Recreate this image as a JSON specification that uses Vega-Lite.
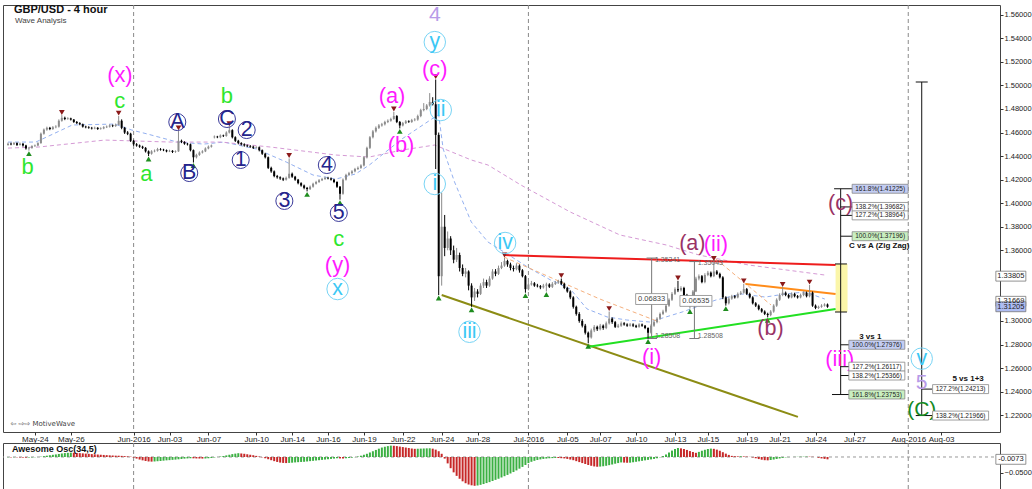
{
"$schema":"https://vega.github.io/schema/vega-lite/v6.json",
"padding":{"left":2,"top":3,"right":0,"bottom":0},
"background":"white",
"spacing":11,
"bounds":"flush",
"config":{"font":"Liberation Sans","view":{"stroke":"#444","strokeWidth":1},"axis":{"labelFont":"Liberation Sans","labelFontSize":8,"labelColor":"#222","tickColor":"#333","domainColor":"#333","title":null,"grid":false,"labelOverlap":false}},
"datasets":{
"months":[{"i":42},{"i":174},{"i":301}],
"bars":[
{"i":0,"o":1.4495,"h":1.4515,"l":1.4488,"c":1.4505,"a":-0.001},
{"i":1,"o":1.4505,"h":1.4514,"l":1.4492,"c":1.45,"a":-0.0012},
{"i":2,"o":1.45,"h":1.452,"l":1.4494,"c":1.451,"a":-0.0008},
{"i":3,"o":1.451,"h":1.4516,"l":1.4486,"c":1.4495,"a":-0.001},
{"i":4,"o":1.4495,"h":1.4515,"l":1.449,"c":1.4505,"a":-0.0014},
{"i":5,"o":1.4505,"h":1.451,"l":1.448,"c":1.449,"a":-0.0018},
{"i":6,"o":1.449,"h":1.4496,"l":1.4455,"c":1.4465,"a":-0.002},
{"i":7,"o":1.4465,"h":1.4478,"l":1.4446,"c":1.447,"a":-0.0016},
{"i":8,"o":1.447,"h":1.4492,"l":1.4462,"c":1.4485,"a":-0.0012},
{"i":9,"o":1.4485,"h":1.4498,"l":1.4478,"c":1.449,"a":-0.0008},
{"i":10,"o":1.449,"h":1.4518,"l":1.4484,"c":1.451,"a":-0.0002},
{"i":11,"o":1.451,"h":1.46,"l":1.4505,"c":1.459,"a":0.001},
{"i":12,"o":1.459,"h":1.4634,"l":1.4582,"c":1.4625,"a":0.0025},
{"i":13,"o":1.4625,"h":1.465,"l":1.4615,"c":1.464,"a":0.004},
{"i":14,"o":1.464,"h":1.4648,"l":1.462,"c":1.463,"a":0.0055},
{"i":15,"o":1.463,"h":1.4655,"l":1.4622,"c":1.4645,"a":0.0068},
{"i":16,"o":1.4645,"h":1.4662,"l":1.4636,"c":1.465,"a":0.008},
{"i":17,"o":1.465,"h":1.4712,"l":1.4642,"c":1.47,"a":0.0095},
{"i":18,"o":1.47,"h":1.4748,"l":1.4692,"c":1.4725,"a":0.011},
{"i":19,"o":1.4725,"h":1.4735,"l":1.4705,"c":1.4715,"a":0.0122},
{"i":20,"o":1.4715,"h":1.473,"l":1.4708,"c":1.472,"a":0.013},
{"i":21,"o":1.472,"h":1.4726,"l":1.4702,"c":1.471,"a":0.0135},
{"i":22,"o":1.471,"h":1.4715,"l":1.4682,"c":1.469,"a":0.0132},
{"i":23,"o":1.469,"h":1.4698,"l":1.4672,"c":1.468,"a":0.0126},
{"i":24,"o":1.468,"h":1.4688,"l":1.4662,"c":1.467,"a":0.012},
{"i":25,"o":1.467,"h":1.4676,"l":1.4642,"c":1.465,"a":0.0113},
{"i":26,"o":1.465,"h":1.4658,"l":1.4636,"c":1.4645,"a":0.0105},
{"i":27,"o":1.4645,"h":1.4654,"l":1.4632,"c":1.464,"a":0.0098},
{"i":28,"o":1.464,"h":1.4648,"l":1.4626,"c":1.4635,"a":0.009},
{"i":29,"o":1.4635,"h":1.465,"l":1.4628,"c":1.464,"a":0.0084},
{"i":30,"o":1.464,"h":1.4646,"l":1.4622,"c":1.463,"a":0.0077},
{"i":31,"o":1.463,"h":1.4644,"l":1.4624,"c":1.4635,"a":0.007},
{"i":32,"o":1.4635,"h":1.4654,"l":1.4628,"c":1.4645,"a":0.0064},
{"i":33,"o":1.4645,"h":1.466,"l":1.4638,"c":1.465,"a":0.0058},
{"i":34,"o":1.465,"h":1.467,"l":1.4642,"c":1.466,"a":0.0052},
{"i":35,"o":1.466,"h":1.4668,"l":1.4646,"c":1.4655,"a":0.0047},
{"i":36,"o":1.4655,"h":1.4676,"l":1.4648,"c":1.4665,"a":0.0042},
{"i":37,"o":1.4665,"h":1.474,"l":1.466,"c":1.47,"a":0.004},
{"i":38,"o":1.47,"h":1.4712,"l":1.4628,"c":1.464,"a":0.0035},
{"i":39,"o":1.464,"h":1.4648,"l":1.4588,"c":1.46,"a":0.0028},
{"i":40,"o":1.46,"h":1.4612,"l":1.4578,"c":1.459,"a":0.002},
{"i":41,"o":1.459,"h":1.4598,"l":1.452,"c":1.453,"a":0.001},
{"i":42,"o":1.453,"h":1.4538,"l":1.4488,"c":1.45,"a":-0.002},
{"i":43,"o":1.45,"h":1.451,"l":1.448,"c":1.449,"a":-0.005},
{"i":44,"o":1.449,"h":1.4498,"l":1.447,"c":1.448,"a":-0.008},
{"i":45,"o":1.448,"h":1.4488,"l":1.446,"c":1.447,"a":-0.0105},
{"i":46,"o":1.447,"h":1.4476,"l":1.443,"c":1.444,"a":-0.0125},
{"i":47,"o":1.444,"h":1.4448,"l":1.44,"c":1.442,"a":-0.014},
{"i":48,"o":1.442,"h":1.445,"l":1.4412,"c":1.444,"a":-0.0145},
{"i":49,"o":1.444,"h":1.4456,"l":1.4432,"c":1.4445,"a":-0.014},
{"i":50,"o":1.4445,"h":1.447,"l":1.4438,"c":1.446,"a":-0.0132},
{"i":51,"o":1.446,"h":1.4468,"l":1.4446,"c":1.4455,"a":-0.0125},
{"i":52,"o":1.4455,"h":1.4462,"l":1.4442,"c":1.445,"a":-0.0115},
{"i":53,"o":1.445,"h":1.4456,"l":1.4432,"c":1.444,"a":-0.0105},
{"i":54,"o":1.444,"h":1.4454,"l":1.4434,"c":1.4445,"a":-0.0098},
{"i":55,"o":1.4445,"h":1.445,"l":1.4426,"c":1.4435,"a":-0.009},
{"i":56,"o":1.4435,"h":1.4448,"l":1.4428,"c":1.444,"a":-0.0082},
{"i":57,"o":1.444,"h":1.4615,"l":1.4436,"c":1.453,"a":-0.0072},
{"i":58,"o":1.453,"h":1.454,"l":1.451,"c":1.452,"a":-0.0062},
{"i":59,"o":1.452,"h":1.4526,"l":1.4496,"c":1.4505,"a":-0.0052},
{"i":60,"o":1.4505,"h":1.4512,"l":1.449,"c":1.45,"a":-0.0045},
{"i":61,"o":1.45,"h":1.4506,"l":1.444,"c":1.445,"a":-0.004},
{"i":62,"o":1.445,"h":1.4456,"l":1.4345,"c":1.439,"a":-0.0042},
{"i":63,"o":1.439,"h":1.442,"l":1.438,"c":1.441,"a":-0.0046},
{"i":64,"o":1.441,"h":1.444,"l":1.4402,"c":1.443,"a":-0.0048},
{"i":65,"o":1.443,"h":1.445,"l":1.4422,"c":1.444,"a":-0.005},
{"i":66,"o":1.444,"h":1.4474,"l":1.4434,"c":1.4465,"a":-0.0047},
{"i":67,"o":1.4465,"h":1.449,"l":1.4458,"c":1.448,"a":-0.004},
{"i":68,"o":1.448,"h":1.4498,"l":1.4472,"c":1.449,"a":-0.003},
{"i":69,"o":1.456,"h":1.4575,"l":1.455,"c":1.4565,"a":-0.0015},
{"i":70,"o":1.4565,"h":1.4572,"l":1.4552,"c":1.456,"a":0},
{"i":71,"o":1.456,"h":1.4584,"l":1.4552,"c":1.4575,"a":0.0015},
{"i":72,"o":1.4575,"h":1.4582,"l":1.4562,"c":1.457,"a":0.003},
{"i":73,"o":1.457,"h":1.461,"l":1.4565,"c":1.46,"a":0.005},
{"i":74,"o":1.46,"h":1.465,"l":1.4592,"c":1.462,"a":0.007},
{"i":75,"o":1.462,"h":1.4628,"l":1.455,"c":1.456,"a":0.009},
{"i":76,"o":1.456,"h":1.4568,"l":1.452,"c":1.453,"a":0.0105},
{"i":77,"o":1.453,"h":1.4538,"l":1.45,"c":1.451,"a":0.0118},
{"i":78,"o":1.451,"h":1.4518,"l":1.449,"c":1.45,"a":0.011},
{"i":79,"o":1.45,"h":1.4508,"l":1.448,"c":1.449,"a":0.01},
{"i":80,"o":1.449,"h":1.4498,"l":1.4476,"c":1.4485,"a":0.0085},
{"i":81,"o":1.4485,"h":1.4494,"l":1.447,"c":1.448,"a":0.007},
{"i":82,"o":1.448,"h":1.4488,"l":1.446,"c":1.447,"a":0.0055},
{"i":83,"o":1.447,"h":1.4484,"l":1.4464,"c":1.4475,"a":0.0035},
{"i":84,"o":1.4475,"h":1.4482,"l":1.444,"c":1.445,"a":0.0015},
{"i":85,"o":1.445,"h":1.4456,"l":1.441,"c":1.442,"a":-0.001},
{"i":86,"o":1.442,"h":1.4428,"l":1.438,"c":1.439,"a":-0.004},
{"i":87,"o":1.439,"h":1.4396,"l":1.429,"c":1.43,"a":-0.007},
{"i":88,"o":1.43,"h":1.431,"l":1.4258,"c":1.427,"a":-0.01},
{"i":89,"o":1.427,"h":1.4278,"l":1.422,"c":1.423,"a":-0.013},
{"i":90,"o":1.423,"h":1.424,"l":1.4208,"c":1.422,"a":-0.0155},
{"i":91,"o":1.422,"h":1.4228,"l":1.4198,"c":1.421,"a":-0.0175},
{"i":92,"o":1.421,"h":1.4218,"l":1.4188,"c":1.42,"a":-0.0185},
{"i":93,"o":1.42,"h":1.4226,"l":1.4192,"c":1.4215,"a":-0.019},
{"i":94,"o":1.4215,"h":1.438,"l":1.4208,"c":1.425,"a":-0.0185},
{"i":95,"o":1.425,"h":1.426,"l":1.4215,"c":1.4225,"a":-0.0178},
{"i":96,"o":1.4225,"h":1.4232,"l":1.419,"c":1.42,"a":-0.017},
{"i":97,"o":1.42,"h":1.4206,"l":1.416,"c":1.417,"a":-0.0162},
{"i":98,"o":1.417,"h":1.4178,"l":1.414,"c":1.415,"a":-0.0155},
{"i":99,"o":1.415,"h":1.4158,"l":1.4118,"c":1.413,"a":-0.015},
{"i":100,"o":1.413,"h":1.4138,"l":1.41,"c":1.412,"a":-0.014},
{"i":101,"o":1.412,"h":1.415,"l":1.4112,"c":1.414,"a":-0.013},
{"i":102,"o":1.414,"h":1.4174,"l":1.4132,"c":1.4165,"a":-0.012},
{"i":103,"o":1.4165,"h":1.419,"l":1.4158,"c":1.418,"a":-0.011},
{"i":104,"o":1.418,"h":1.4205,"l":1.4172,"c":1.4195,"a":-0.01},
{"i":105,"o":1.4195,"h":1.4215,"l":1.4188,"c":1.4205,"a":-0.009},
{"i":106,"o":1.4205,"h":1.4226,"l":1.4198,"c":1.4215,"a":-0.008},
{"i":107,"o":1.4215,"h":1.4224,"l":1.4202,"c":1.421,"a":-0.007},
{"i":108,"o":1.421,"h":1.4218,"l":1.4192,"c":1.42,"a":-0.006},
{"i":109,"o":1.42,"h":1.4206,"l":1.417,"c":1.418,"a":-0.005},
{"i":110,"o":1.418,"h":1.4186,"l":1.413,"c":1.414,"a":-0.0042},
{"i":111,"o":1.414,"h":1.4146,"l":1.403,"c":1.408,"a":-0.0045},
{"i":112,"o":1.408,"h":1.421,"l":1.4072,"c":1.42,"a":-0.0048},
{"i":113,"o":1.42,"h":1.425,"l":1.4192,"c":1.424,"a":-0.004},
{"i":114,"o":1.424,"h":1.4266,"l":1.4232,"c":1.4255,"a":-0.003},
{"i":115,"o":1.4255,"h":1.428,"l":1.4246,"c":1.427,"a":-0.002},
{"i":116,"o":1.427,"h":1.43,"l":1.4262,"c":1.429,"a":-0.0005},
{"i":117,"o":1.429,"h":1.4312,"l":1.4282,"c":1.43,"a":0.0015},
{"i":118,"o":1.43,"h":1.433,"l":1.4292,"c":1.432,"a":0.004},
{"i":119,"o":1.432,"h":1.44,"l":1.4312,"c":1.439,"a":0.007},
{"i":120,"o":1.439,"h":1.448,"l":1.438,"c":1.447,"a":0.01},
{"i":121,"o":1.447,"h":1.457,"l":1.446,"c":1.456,"a":0.014},
{"i":122,"o":1.456,"h":1.4622,"l":1.455,"c":1.461,"a":0.018},
{"i":123,"o":1.461,"h":1.4652,"l":1.46,"c":1.464,"a":0.022},
{"i":124,"o":1.464,"h":1.4672,"l":1.463,"c":1.466,"a":0.026},
{"i":125,"o":1.466,"h":1.4682,"l":1.465,"c":1.467,"a":0.0295},
{"i":126,"o":1.467,"h":1.47,"l":1.466,"c":1.469,"a":0.032},
{"i":127,"o":1.469,"h":1.4712,"l":1.468,"c":1.47,"a":0.034},
{"i":128,"o":1.47,"h":1.4726,"l":1.4692,"c":1.4715,"a":0.0355},
{"i":129,"o":1.4715,"h":1.4775,"l":1.4708,"c":1.474,"a":0.035},
{"i":130,"o":1.474,"h":1.4748,"l":1.468,"c":1.469,"a":0.034},
{"i":131,"o":1.469,"h":1.4698,"l":1.4635,"c":1.466,"a":0.0325},
{"i":132,"o":1.466,"h":1.469,"l":1.4652,"c":1.468,"a":0.031},
{"i":133,"o":1.468,"h":1.4706,"l":1.4672,"c":1.4695,"a":0.0295},
{"i":134,"o":1.4695,"h":1.4704,"l":1.4682,"c":1.469,"a":0.028},
{"i":135,"o":1.469,"h":1.4716,"l":1.4682,"c":1.4705,"a":0.0265},
{"i":136,"o":1.4705,"h":1.4722,"l":1.4696,"c":1.471,"a":0.0255},
{"i":137,"o":1.471,"h":1.4752,"l":1.47,"c":1.474,"a":0.0258},
{"i":138,"o":1.474,"h":1.4802,"l":1.473,"c":1.479,"a":0.0262},
{"i":139,"o":1.479,"h":1.485,"l":1.478,"c":1.48,"a":0.0266},
{"i":140,"o":1.48,"h":1.4842,"l":1.479,"c":1.483,"a":0.027},
{"i":141,"o":1.483,"h":1.4935,"l":1.482,"c":1.486,"a":0.0272},
{"i":142,"o":1.486,"h":1.49,"l":1.483,"c":1.484,"a":0.026},
{"i":143,"o":1.484,"h":1.505,"l":1.429,"c":1.458,"a":0.023},
{"i":144,"o":1.458,"h":1.46,"l":1.322,"c":1.338,"a":0.018},
{"i":145,"o":1.338,"h":1.409,"l":1.33,"c":1.38,"a":0.01},
{"i":146,"o":1.38,"h":1.39,"l":1.355,"c":1.362,"a":-0.005},
{"i":147,"o":1.362,"h":1.376,"l":1.36,"c":1.37,"a":-0.02},
{"i":148,"o":1.37,"h":1.372,"l":1.356,"c":1.36,"a":-0.035},
{"i":149,"o":1.36,"h":1.364,"l":1.349,"c":1.352,"a":-0.048},
{"i":150,"o":1.352,"h":1.362,"l":1.35,"c":1.356,"a":-0.059},
{"i":151,"o":1.356,"h":1.358,"l":1.342,"c":1.345,"a":-0.068},
{"i":152,"o":1.345,"h":1.348,"l":1.338,"c":1.34,"a":-0.076},
{"i":153,"o":1.34,"h":1.345,"l":1.337,"c":1.342,"a":-0.082},
{"i":154,"o":1.342,"h":1.343,"l":1.326,"c":1.33,"a":-0.086},
{"i":155,"o":1.33,"h":1.332,"l":1.312,"c":1.32,"a":-0.0885},
{"i":156,"o":1.32,"h":1.328,"l":1.317,"c":1.325,"a":-0.09},
{"i":157,"o":1.325,"h":1.327,"l":1.32,"c":1.323,"a":-0.089},
{"i":158,"o":1.323,"h":1.332,"l":1.322,"c":1.33,"a":-0.087},
{"i":159,"o":1.33,"h":1.336,"l":1.328,"c":1.333,"a":-0.0845},
{"i":160,"o":1.333,"h":1.335,"l":1.328,"c":1.33,"a":-0.0815},
{"i":161,"o":1.33,"h":1.338,"l":1.329,"c":1.336,"a":-0.0785},
{"i":162,"o":1.336,"h":1.344,"l":1.335,"c":1.342,"a":-0.075},
{"i":163,"o":1.342,"h":1.344,"l":1.338,"c":1.34,"a":-0.0715},
{"i":164,"o":1.34,"h":1.347,"l":1.339,"c":1.345,"a":-0.068},
{"i":165,"o":1.345,"h":1.35,"l":1.344,"c":1.347,"a":-0.064},
{"i":166,"o":1.347,"h":1.3535,"l":1.346,"c":1.351,"a":-0.06},
{"i":167,"o":1.351,"h":1.352,"l":1.346,"c":1.348,"a":-0.056},
{"i":168,"o":1.348,"h":1.3495,"l":1.343,"c":1.345,"a":-0.0515},
{"i":169,"o":1.345,"h":1.347,"l":1.342,"c":1.344,"a":-0.047},
{"i":170,"o":1.344,"h":1.349,"l":1.343,"c":1.347,"a":-0.042},
{"i":171,"o":1.347,"h":1.348,"l":1.341,"c":1.343,"a":-0.0365},
{"i":172,"o":1.343,"h":1.344,"l":1.337,"c":1.338,"a":-0.031},
{"i":173,"o":1.338,"h":1.339,"l":1.324,"c":1.327,"a":-0.025},
{"i":174,"o":1.327,"h":1.333,"l":1.326,"c":1.331,"a":-0.019},
{"i":175,"o":1.331,"h":1.334,"l":1.33,"c":1.332,"a":-0.015},
{"i":176,"o":1.332,"h":1.333,"l":1.329,"c":1.33,"a":-0.012},
{"i":177,"o":1.33,"h":1.3315,"l":1.3285,"c":1.3295,"a":-0.0095},
{"i":178,"o":1.3295,"h":1.3305,"l":1.327,"c":1.3285,"a":-0.0075},
{"i":179,"o":1.3285,"h":1.3315,"l":1.3275,"c":1.33,"a":-0.006},
{"i":180,"o":1.33,"h":1.3325,"l":1.325,"c":1.331,"a":-0.005},
{"i":181,"o":1.331,"h":1.332,"l":1.328,"c":1.329,"a":-0.004},
{"i":182,"o":1.329,"h":1.333,"l":1.328,"c":1.3315,"a":-0.0035},
{"i":183,"o":1.3315,"h":1.334,"l":1.3305,"c":1.3325,"a":-0.003},
{"i":184,"o":1.3325,"h":1.335,"l":1.3315,"c":1.334,"a":-0.0032},
{"i":185,"o":1.334,"h":1.336,"l":1.3305,"c":1.3315,"a":-0.0038},
{"i":186,"o":1.3315,"h":1.3325,"l":1.327,"c":1.328,"a":-0.0045},
{"i":187,"o":1.328,"h":1.329,"l":1.324,"c":1.325,"a":-0.006},
{"i":188,"o":1.325,"h":1.326,"l":1.3185,"c":1.32,"a":-0.008},
{"i":189,"o":1.32,"h":1.321,"l":1.3105,"c":1.312,"a":-0.01},
{"i":190,"o":1.312,"h":1.313,"l":1.3045,"c":1.306,"a":-0.013},
{"i":191,"o":1.306,"h":1.3075,"l":1.2985,"c":1.3,"a":-0.016},
{"i":192,"o":1.3,"h":1.3015,"l":1.2945,"c":1.296,"a":-0.019},
{"i":193,"o":1.296,"h":1.2975,"l":1.2885,"c":1.29,"a":-0.022},
{"i":194,"o":1.29,"h":1.291,"l":1.281,"c":1.286,"a":-0.025},
{"i":195,"o":1.286,"h":1.2935,"l":1.285,"c":1.292,"a":-0.0275},
{"i":196,"o":1.292,"h":1.2965,"l":1.2905,"c":1.295,"a":-0.0295},
{"i":197,"o":1.295,"h":1.296,"l":1.2915,"c":1.293,"a":-0.0305},
{"i":198,"o":1.293,"h":1.2975,"l":1.292,"c":1.296,"a":-0.03},
{"i":199,"o":1.296,"h":1.297,"l":1.2925,"c":1.294,"a":-0.029},
{"i":200,"o":1.294,"h":1.2995,"l":1.293,"c":1.298,"a":-0.0275},
{"i":201,"o":1.298,"h":1.308,"l":1.297,"c":1.302,"a":-0.0255},
{"i":202,"o":1.302,"h":1.303,"l":1.2975,"c":1.299,"a":-0.0235},
{"i":203,"o":1.299,"h":1.3,"l":1.294,"c":1.295,"a":-0.021},
{"i":204,"o":1.295,"h":1.2975,"l":1.294,"c":1.296,"a":-0.019},
{"i":205,"o":1.296,"h":1.2995,"l":1.295,"c":1.298,"a":-0.017},
{"i":206,"o":1.298,"h":1.299,"l":1.296,"c":1.297,"a":-0.0175},
{"i":207,"o":1.297,"h":1.298,"l":1.295,"c":1.296,"a":-0.018},
{"i":208,"o":1.296,"h":1.2982,"l":1.2952,"c":1.297,"a":-0.0178},
{"i":209,"o":1.297,"h":1.298,"l":1.2948,"c":1.296,"a":-0.0165},
{"i":210,"o":1.296,"h":1.2968,"l":1.294,"c":1.295,"a":-0.015},
{"i":211,"o":1.295,"h":1.298,"l":1.2942,"c":1.297,"a":-0.0135},
{"i":212,"o":1.297,"h":1.2978,"l":1.295,"c":1.296,"a":-0.012},
{"i":213,"o":1.296,"h":1.2966,"l":1.293,"c":1.294,"a":-0.0105},
{"i":214,"o":1.294,"h":1.2946,"l":1.2851,"c":1.29,"a":-0.009},
{"i":215,"o":1.29,"h":1.2972,"l":1.2892,"c":1.296,"a":-0.0075},
{"i":216,"o":1.296,"h":1.3002,"l":1.295,"c":1.299,"a":-0.006},
{"i":217,"o":1.299,"h":1.3032,"l":1.298,"c":1.302,"a":-0.004},
{"i":218,"o":1.302,"h":1.3072,"l":1.301,"c":1.306,"a":-0.001},
{"i":219,"o":1.306,"h":1.3095,"l":1.305,"c":1.308,"a":0.003},
{"i":220,"o":1.308,"h":1.3142,"l":1.307,"c":1.313,"a":0.008},
{"i":221,"o":1.313,"h":1.3192,"l":1.312,"c":1.318,"a":0.014},
{"i":222,"o":1.318,"h":1.3245,"l":1.317,"c":1.323,"a":0.02},
{"i":223,"o":1.323,"h":1.3285,"l":1.322,"c":1.327,"a":0.025},
{"i":224,"o":1.327,"h":1.334,"l":1.3245,"c":1.326,"a":0.028},
{"i":225,"o":1.326,"h":1.3295,"l":1.325,"c":1.328,"a":0.027},
{"i":226,"o":1.328,"h":1.329,"l":1.321,"c":1.322,"a":0.025},
{"i":227,"o":1.322,"h":1.323,"l":1.315,"c":1.316,"a":0.022},
{"i":228,"o":1.316,"h":1.32,"l":1.3105,"c":1.319,"a":0.0185},
{"i":229,"o":1.319,"h":1.3262,"l":1.318,"c":1.325,"a":0.0155},
{"i":230,"o":1.325,"h":1.3375,"l":1.3245,"c":1.336,"a":0.013},
{"i":231,"o":1.336,"h":1.3395,"l":1.3345,"c":1.338,"a":0.016},
{"i":232,"o":1.338,"h":1.339,"l":1.332,"c":1.333,"a":0.0195},
{"i":233,"o":1.333,"h":1.3405,"l":1.332,"c":1.339,"a":0.0225},
{"i":234,"o":1.339,"h":1.3425,"l":1.338,"c":1.341,"a":0.025},
{"i":235,"o":1.341,"h":1.342,"l":1.337,"c":1.338,"a":0.0262},
{"i":236,"o":1.338,"h":1.3504,"l":1.3372,"c":1.342,"a":0.0255},
{"i":237,"o":1.342,"h":1.3432,"l":1.339,"c":1.34,"a":0.023},
{"i":238,"o":1.34,"h":1.341,"l":1.336,"c":1.337,"a":0.0195},
{"i":239,"o":1.337,"h":1.338,"l":1.3185,"c":1.32,"a":0.015},
{"i":240,"o":1.32,"h":1.321,"l":1.313,"c":1.315,"a":0.0105},
{"i":241,"o":1.315,"h":1.3205,"l":1.314,"c":1.319,"a":0.0065},
{"i":242,"o":1.319,"h":1.3222,"l":1.318,"c":1.321,"a":0.0035},
{"i":243,"o":1.321,"h":1.322,"l":1.319,"c":1.32,"a":0.0025},
{"i":244,"o":1.32,"h":1.3242,"l":1.3192,"c":1.323,"a":0.002},
{"i":245,"o":1.323,"h":1.3255,"l":1.322,"c":1.324,"a":0.0022},
{"i":246,"o":1.324,"h":1.3315,"l":1.3232,"c":1.327,"a":0.0018},
{"i":247,"o":1.327,"h":1.328,"l":1.322,"c":1.323,"a":0.0012},
{"i":248,"o":1.323,"h":1.324,"l":1.319,"c":1.32,"a":0.0005},
{"i":249,"o":1.32,"h":1.321,"l":1.314,"c":1.315,"a":-0.0015},
{"i":250,"o":1.315,"h":1.316,"l":1.3118,"c":1.313,"a":-0.004},
{"i":251,"o":1.313,"h":1.314,"l":1.309,"c":1.31,"a":-0.0065},
{"i":252,"o":1.31,"h":1.311,"l":1.307,"c":1.308,"a":-0.0085},
{"i":253,"o":1.308,"h":1.309,"l":1.305,"c":1.306,"a":-0.01},
{"i":254,"o":1.306,"h":1.307,"l":1.303,"c":1.305,"a":-0.0105},
{"i":255,"o":1.305,"h":1.3092,"l":1.304,"c":1.308,"a":-0.0095},
{"i":256,"o":1.308,"h":1.3142,"l":1.307,"c":1.313,"a":-0.008},
{"i":257,"o":1.313,"h":1.3192,"l":1.312,"c":1.318,"a":-0.0062},
{"i":258,"o":1.318,"h":1.3235,"l":1.317,"c":1.322,"a":-0.0045},
{"i":259,"o":1.322,"h":1.3285,"l":1.321,"c":1.324,"a":-0.0028},
{"i":260,"o":1.324,"h":1.325,"l":1.321,"c":1.322,"a":-0.0012},
{"i":261,"o":1.322,"h":1.323,"l":1.319,"c":1.32,"a":-0.0005},
{"i":262,"o":1.32,"h":1.3242,"l":1.3192,"c":1.323,"a":0},
{"i":263,"o":1.323,"h":1.324,"l":1.32,"c":1.321,"a":0.0004},
{"i":264,"o":1.321,"h":1.322,"l":1.319,"c":1.32,"a":0.0006},
{"i":265,"o":1.32,"h":1.3232,"l":1.3192,"c":1.322,"a":0.0008},
{"i":266,"o":1.322,"h":1.3252,"l":1.321,"c":1.324,"a":0.001},
{"i":267,"o":1.324,"h":1.325,"l":1.32,"c":1.321,"a":0.0012},
{"i":268,"o":1.321,"h":1.3305,"l":1.32,"c":1.324,"a":0.001},
{"i":269,"o":1.324,"h":1.325,"l":1.312,"c":1.313,"a":0.0006},
{"i":270,"o":1.313,"h":1.314,"l":1.31,"c":1.311,"a":0},
{"i":271,"o":1.311,"h":1.313,"l":1.3102,"c":1.312,"a":-0.0025},
{"i":272,"o":1.312,"h":1.3142,"l":1.3112,"c":1.313,"a":-0.0045},
{"i":273,"o":1.313,"h":1.315,"l":1.3122,"c":1.314,"a":-0.006},
{"i":274,"o":1.314,"h":1.3148,"l":1.3112,"c":1.312,"a":-0.0073}
],
"ma":[
{"s":"b","i":0,"p":1.4519},{"s":"b","i":9.3,"p":1.4519},{"s":"b","i":21.5,"p":1.4664},{"s":"b","i":35.7,"p":1.4672},{"s":"b","i":41.4,"p":1.4621},{"s":"b","i":46.7,"p":1.4587},{"s":"b","i":56.6,"p":1.4519},{"s":"b","i":65.5,"p":1.4502},{"s":"b","i":72.2,"p":1.4519},{"s":"b","i":83.1,"p":1.446},{"s":"b","i":93,"p":1.435},{"s":"b","i":102,"p":1.4239},{"s":"b","i":109.6,"p":1.4205},{"s":"b","i":116.2,"p":1.4248},{"s":"b","i":120.8,"p":1.4324},{"s":"b","i":131.7,"p":1.4545},{"s":"b","i":141.7,"p":1.4715},{"s":"b","i":144,"p":1.4749},{"s":"b","i":145.5,"p":1.446},{"s":"b","i":149.3,"p":1.418},{"s":"b","i":154.9,"p":1.384},{"s":"b","i":160.5,"p":1.367},{"s":"b","i":165.8,"p":1.3586},{"s":"b","i":174.8,"p":1.3441},{"s":"b","i":181.4,"p":1.3348},{"s":"b","i":188,"p":1.3271},{"s":"b","i":193.6,"p":1.3102},{"s":"b","i":200.3,"p":1.3034},{"s":"b","i":206.9,"p":1.3008},{"s":"b","i":214.5,"p":1.2991},{"s":"b","i":225.4,"p":1.3076},{"s":"b","i":236.7,"p":1.3178},{"s":"b","i":245.3,"p":1.3229},{"s":"b","i":253.2,"p":1.3203},{"s":"b","i":259.8,"p":1.3229},{"s":"b","i":266.5,"p":1.3246},{"s":"b","i":273.1,"p":1.3186},
{"s":"m","i":0,"p":1.4468},{"s":"m","i":10.3,"p":1.4477},{"s":"m","i":32.4,"p":1.4536},{"s":"m","i":54.6,"p":1.4519},{"s":"m","i":71.2,"p":1.4519},{"s":"m","i":87.7,"p":1.4477},{"s":"m","i":109.6,"p":1.4409},{"s":"m","i":120.8,"p":1.4392},{"s":"m","i":131.7,"p":1.4451},{"s":"m","i":142.7,"p":1.4494},{"s":"m","i":154.9,"p":1.4367},{"s":"m","i":160.5,"p":1.4324},{"s":"m","i":171.5,"p":1.4154},{"s":"m","i":188,"p":1.3925},{"s":"m","i":204.6,"p":1.373},{"s":"m","i":220.1,"p":1.3645},{"s":"m","i":231,"p":1.356},{"s":"m","i":247.6,"p":1.3475},{"s":"m","i":273.1,"p":1.339},
{"s":"o1","i":165.8,"p":1.3543},{"s":"o1","i":197.9,"p":1.3186},{"s":"o1","i":217.8,"p":1.2991},
{"s":"o2","i":236.7,"p":1.3526},{"s":"o2","i":255.1,"p":1.3136}
],
"tl":[
{"s":"olive","i":145,"p":1.322},{"s":"olive","i":264.1,"p":1.2185},
{"s":"red","i":165.8,"p":1.356},{"s":"red","i":276.7,"p":1.3475},
{"s":"green","i":193.6,"p":1.2779},{"s":"green","i":276.7,"p":1.3102},
{"s":"orange","i":246.6,"p":1.3314},{"s":"orange","i":276.7,"p":1.3229}
],
"zone":[{"i":276.7,"i2":280.7,"lo":1.3076,"hi":1.3484}],
"fl":[
{"s":"v1","i":278.4,"p":1.41225},{"s":"v1","i":278.4,"p":1.23753},
{"s":"c1","i":276.2,"p":1.41225},{"s":"c1","i":283,"p":1.41225},
{"s":"c2","i":278.4,"p":1.39682},{"s":"c2","i":283,"p":1.39682},
{"s":"c3","i":278.4,"p":1.38964},{"s":"c3","i":283,"p":1.38964},
{"s":"c4","i":278.4,"p":1.37196},{"s":"c4","i":283,"p":1.37196},
{"s":"c5","i":276.5,"p":1.3484},{"s":"c5","i":280.5,"p":1.3484},
{"s":"c6","i":276.5,"p":1.3076},{"s":"c6","i":280.5,"p":1.3076},
{"s":"c7","i":278.4,"p":1.27976},{"s":"c7","i":281.5,"p":1.27976},
{"s":"c8","i":278.4,"p":1.26117},{"s":"c8","i":281.5,"p":1.26117},
{"s":"c9","i":278.4,"p":1.25366},{"s":"c9","i":281.5,"p":1.25366},
{"s":"c10","i":275.5,"p":1.23753},{"s":"c10","i":281.5,"p":1.23753},
{"s":"v2","i":305.5,"p":1.5029},{"s":"v2","i":305.5,"p":1.21966},
{"s":"c11","i":303.5,"p":1.5029},{"s":"c11","i":307.5,"p":1.5029},
{"s":"c12","i":305.5,"p":1.24213},{"s":"c12","i":309,"p":1.24213},
{"s":"c13","i":303.5,"p":1.21966},{"s":"c13","i":309,"p":1.21966}
],
"ml":[
{"s":"m1","i":215.2,"p":1.35341},{"s":"m1","i":215.2,"p":1.28508},
{"s":"m1a","i":213.5,"p":1.35341},{"s":"m1a","i":217,"p":1.35341},
{"s":"m1b","i":213.5,"p":1.28508},{"s":"m1b","i":217,"p":1.28508},
{"s":"m2","i":229.5,"p":1.35043},{"s":"m2","i":229.5,"p":1.28508},
{"s":"m2a","i":227.8,"p":1.35043},{"s":"m2a","i":231.2,"p":1.35043},
{"s":"m2b","i":227.8,"p":1.28508},{"s":"m2b","i":231.2,"p":1.28508}
],
"mb":[{"t":"0.06833","i":215.2,"p":1.3186},{"t":"0.06535","i":230,"p":1.317}],
"mt":[{"t":"1.35341","i":216.3,"p":1.352},{"t":"1.35043","i":230.6,"p":1.3495},{"t":"1.28508","i":216.3,"p":1.2868},{"t":"1.28508","i":230.6,"p":1.2875}],
"tri":[
{"t":"hi","i":18,"p":1.477},{"t":"hi","i":37,"p":1.4765},{"t":"hi","i":57,"p":1.464},{"t":"hi","i":74,"p":1.4675},{"t":"hi","i":94,"p":1.4405},{"t":"hi","i":129,"p":1.48},{"t":"hi","i":143,"p":1.5075},{"t":"hi","i":166,"p":1.356},{"t":"hi","i":185,"p":1.3385},{"t":"hi","i":201,"p":1.3105},{"t":"hi","i":224,"p":1.3365},{"t":"hi","i":236,"p":1.353},{"t":"hi","i":246,"p":1.334},{"t":"hi","i":259,"p":1.331},{"t":"hi","i":268,"p":1.333},
{"t":"lo","i":7,"p":1.4421},{"t":"lo","i":47,"p":1.4375},{"t":"lo","i":62,"p":1.432},{"t":"lo","i":100,"p":1.4075},{"t":"lo","i":111,"p":1.4005},{"t":"lo","i":131,"p":1.461},{"t":"lo","i":144,"p":1.3195},{"t":"lo","i":155,"p":1.3095},{"t":"lo","i":173,"p":1.3215},{"t":"lo","i":180,"p":1.3225},{"t":"lo","i":194,"p":1.2785},{"t":"lo","i":214,"p":1.2826},{"t":"lo","i":228,"p":1.308},{"t":"lo","i":240,"p":1.3105},{"t":"lo","i":254,"p":1.3005}
],
"waves":[
{"t":"b","i":6.6,"p":1.4307,"g":"grn"},{"t":"c","i":37.4,"p":1.4867,"g":"grn"},{"t":"a","i":46.3,"p":1.4248,"g":"grn"},{"t":"b","i":73.2,"p":1.491,"g":"grn"},{"t":"c","i":110.6,"p":1.3696,"g":"grn"},
{"t":"(x)","i":37.4,"p":1.5088,"g":"mag"},{"t":"(y)","i":110.2,"p":1.3475,"g":"mag"},{"t":"(a)","i":128.4,"p":1.491,"g":"mag"},{"t":"(b)","i":131.4,"p":1.4494,"g":"mag"},{"t":"(c)","i":142.7,"p":1.5139,"g":"mag"},{"t":"(i)","i":215.2,"p":1.2694,"g":"mag"},{"t":"(ii)","i":236.7,"p":1.3654,"g":"mag"},{"t":"(iii)","i":278.1,"p":1.2677,"g":"magL"},
{"t":"(a)","i":228.8,"p":1.3654,"g":"mar"},{"t":"(b)","i":254.9,"p":1.2932,"g":"mar"},{"t":"(c)","i":278.4,"p":1.3993,"g":"mar"},
{"t":"A","i":56.6,"p":1.4689,"g":"nav"},{"t":"B","i":60.6,"p":1.4256,"g":"nav"},{"t":"C","i":73.2,"p":1.4715,"g":"nav"},{"t":"1","i":77.8,"p":1.4367,"g":"nav"},{"t":"2","i":79.8,"p":1.4621,"g":"nav"},{"t":"3","i":92.4,"p":1.4019,"g":"nav"},{"t":"4","i":106.6,"p":1.4324,"g":"nav"},{"t":"5","i":110.6,"p":1.3917,"g":"nav"},
{"t":"y","i":142.7,"p":1.5368,"g":"cyn"},{"t":"ii","i":144.7,"p":1.4791,"g":"cyn"},{"t":"i","i":142.7,"p":1.4163,"g":"cyn"},{"t":"x","i":110.2,"p":1.3271,"g":"cyn"},{"t":"iii","i":154.3,"p":1.2908,"g":"cyn"},{"t":"iv","i":166.2,"p":1.3662,"g":"cyn"},{"t":"v","i":305.5,"p":1.268,"g":"cyn"},
{"t":"4","i":142.7,"p":1.5598,"g":"lav"},{"t":"5","i":305.5,"p":1.247,"g":"lav"},{"t":"(C)","i":305.5,"p":1.2244,"g":"dgr"}
],
"fb":[
{"t":"161.8%(1.41225)","i":291.6,"p":1.41225,"f":"b"},{"t":"138.2%(1.39682)","i":291.6,"p":1.39682,"f":"w"},{"t":"127.2%(1.38964)","i":291.6,"p":1.38964,"f":"w"},{"t":"100.0%(1.37196)","i":291.6,"p":1.37196,"f":"g"},
{"t":"100.0%(1.27976)","i":290.5,"p":1.27976,"f":"b"},{"t":"127.2%(1.26117)","i":290.5,"p":1.26117,"f":"w"},{"t":"138.2%(1.25366)","i":290.5,"p":1.25366,"f":"w"},{"t":"161.8%(1.23753)","i":290.5,"p":1.23753,"f":"g"},
{"t":"127.2%(1.24213)","i":318.5,"p":1.24213,"f":"w"},{"t":"138.2%(1.21966)","i":318.5,"p":1.21966,"f":"w"}
],
"nt":[{"t":"C vs A (Zig Zag)","i":291.3,"p":1.3636},{"t":"3 vs 1","i":288.3,"p":1.2864},{"t":"5 vs 1+3","i":321,"p":1.2507}],
"pb":[{"t":"1.33805","i":335.3,"p":1.33805,"f":"w"},{"t":"1.31669","i":335.3,"p":1.31669,"f":"w"},{"t":"1.31205","i":335.3,"p":1.31205,"f":"b"}]
},
"vconcat":[
{
"width":997,"height":427,
"resolve":{"scale":{"color":"independent","size":"independent","shape":"independent","fill":"independent","stroke":"independent"}},
"encoding":{"x":{"field":"i","type":"quantitative","scale":{"domain":[0,330],"nice":false,"zero":false},"axis":{"values":[9,21,42,54,67,83,95,107,119,132,145,157,174,187,198,210,223,234,247,258,270,283,301,312],"labelExpr":"['May-24','May-26','Jun-2016','Jun-03','Jun-07','Jun-10','Jun-14','Jun-16','Jun-19','Jun-22','Jun-24','Jun-28','Jul-2016','Jul-05','Jul-07','Jul-10','Jul-13','Jul-15','Jul-19','Jul-21','Jul-24','Jul-27','Aug-2016','Aug-03'][indexof([9,21,42,54,67,83,95,107,119,132,145,157,174,187,198,210,223,234,247,258,270,283,301,312], datum.value)]","title":null,"grid":false,"tickSize":3,"labelPadding":0,"labelFontSize":8,"domain":false,"labelOverlap":false,"labelFlush":false}}},
"layer":[
{"data":{"name":"months"},"mark":{"type":"rule","color":"#8a8a8a","strokeDash":[4,3],"strokeWidth":1}},
{
"resolve":{"scale":{"color":"independent","size":"independent","shape":"independent","fill":"independent","stroke":"independent"}},
"encoding":{"y":{"field":"p","type":"quantitative","scale":{"domain":[1.2057,1.5683],"nice":false,"zero":false},"axis":{"orient":"right","values":[1.22,1.24,1.26,1.28,1.3,1.36,1.38,1.4,1.42,1.44,1.46,1.48,1.5,1.52,1.54,1.56],"format":".5f","title":null,"grid":false,"tickSize":3,"labelPadding":1,"labelFontSize":7.5,"labelOverlap":false,"domain":false}}},
"layer":[
{"data":{"name":"zone"},"mark":{"type":"rect","fill":"#fbf5a0","opacity":0.9},"encoding":{"x2":{"field":"i2"},"y":{"field":"lo","type":"quantitative","axis":{"orient":"right","values":[1.22,1.24,1.26,1.28,1.3,1.36,1.38,1.4,1.42,1.44,1.46,1.48,1.5,1.52,1.54,1.56],"format":".5f","title":null,"grid":false,"tickSize":3,"labelPadding":1,"labelFontSize":7.5,"labelOverlap":false,"domain":false}},"y2":{"field":"hi"}}},
{"data":{"name":"ma"},"mark":{"type":"line","strokeDash":[4,3],"strokeWidth":1},"encoding":{"color":{"field":"s","type":"nominal","scale":{"domain":["b","m","o1","o2"],"range":["#93b0f0","#d59ad5","#f5b07e","#f5b07e"]},"legend":null}}},
{"data":{"name":"tl"},"mark":{"type":"line","strokeWidth":2},"encoding":{"color":{"field":"s","type":"nominal","scale":{"domain":["olive","red","green","orange"],"range":["#8c8c14","#ee1c1c","#22e022","#ff8c1a"]},"legend":null}}},
{"data":{"name":"ml"},"mark":{"type":"line","strokeWidth":1,"color":"#777"},"encoding":{"detail":{"field":"s"}}},
{"data":{"name":"fl"},"mark":{"type":"line","strokeWidth":1,"color":"#111"},"encoding":{"detail":{"field":"s"}}},
{"data":{"name":"bars"},"mark":{"type":"rule","strokeWidth":1},"encoding":{"y":{"field":"l","type":"quantitative","axis":{"orient":"right","values":[1.22,1.24,1.26,1.28,1.3,1.36,1.38,1.4,1.42,1.44,1.46,1.48,1.5,1.52,1.54,1.56],"format":".5f","title":null,"grid":false,"tickSize":3,"labelPadding":1,"labelFontSize":7.5,"labelOverlap":false,"domain":false}},"y2":{"field":"h"},"color":{"condition":{"test":"datum.c >= datum.o","value":"#8c8c8c"},"value":"#000000"}}},
{"data":{"name":"bars"},"mark":{"type":"bar","size":2},"encoding":{"y":{"field":"o","type":"quantitative","axis":{"orient":"right","values":[1.22,1.24,1.26,1.28,1.3,1.36,1.38,1.4,1.42,1.44,1.46,1.48,1.5,1.52,1.54,1.56],"format":".5f","title":null,"grid":false,"tickSize":3,"labelPadding":1,"labelFontSize":7.5,"labelOverlap":false,"domain":false}},"y2":{"field":"c"},"color":{"condition":{"test":"datum.c >= datum.o","value":"#8c8c8c"},"value":"#000000"}}},
{"data":{"name":"tri"},"mark":{"type":"point","filled":true,"opacity":1,"size":32},"encoding":{"shape":{"field":"t","type":"nominal","scale":{"domain":["hi","lo"],"range":["triangle-down","triangle-up"]},"legend":null},"color":{"field":"t","type":"nominal","scale":{"domain":["hi","lo"],"range":["#8b1a1a","#1e8c1e"]},"legend":null}}},
{"data":{"name":"waves"},"transform":[{"filter":"datum.g == 'nav' || datum.g == 'cyn'"}],"mark":{"type":"point","filled":false,"strokeWidth":1,"opacity":1},"encoding":{"stroke":{"field":"g","type":"nominal","scale":{"domain":["nav","cyn"],"range":["#3a3a9a","#78d4f5"]},"legend":null},"size":{"field":"g","type":"nominal","scale":{"domain":["nav","cyn"],"range":[290,460]},"legend":null}}},
{"data":{"name":"waves"},"mark":{"type":"text","baseline":"middle","align":"center","font":"Liberation Sans"},"encoding":{"text":{"field":"t"},"color":{"field":"g","type":"nominal","scale":{"domain":["grn","mag","magL","mar","nav","cyn","lav","dgr"],"range":["#2ee62e","#ff1aff","#ff1aff","#993366","#24248c","#3cc8f5","#b79be8","#14891f"]},"legend":null},"size":{"field":"g","type":"nominal","scale":{"domain":["grn","mag","magL","mar","nav","cyn","lav","dgr"],"range":[22,21,25,23,14,17,32,28]},"legend":null}}},
{"data":{"name":"fb"},"mark":{"type":"point","shape":"M-1,-0.16H1V0.16H-1Z","size":3136,"filled":true,"opacity":1,"stroke":"#888","strokeWidth":0.8},"encoding":{"fill":{"field":"f","type":"nominal","scale":{"domain":["w","g","b"],"range":["#ffffff","#c9efc0","#c3cdf3"]},"legend":null}}},
{"data":{"name":"fb"},"mark":{"type":"text","fontSize":6.5,"baseline":"middle","align":"center","color":"#222"},"encoding":{"text":{"field":"t"}}},
{"data":{"name":"nt"},"mark":{"type":"text","fontSize":8,"fontWeight":"bold","baseline":"middle","align":"center","color":"#111"},"encoding":{"text":{"field":"t"}}},
{"data":{"name":"mb"},"mark":{"type":"point","shape":"M-1,-0.34H1V0.34H-1Z","size":1024,"filled":true,"fill":"white","opacity":1,"stroke":"#888","strokeWidth":0.8}},
{"data":{"name":"mb"},"mark":{"type":"text","fontSize":7.5,"baseline":"middle","align":"center","color":"#444"},"encoding":{"text":{"field":"t"}}},
{"data":{"name":"mt"},"mark":{"type":"text","fontSize":7,"baseline":"middle","align":"left","color":"#666"},"encoding":{"text":{"field":"t"}}},
{"data":{"name":"pb"},"mark":{"type":"point","shape":"M-1,-0.33H1V0.33H-1Z","size":900,"filled":true,"opacity":1,"stroke":"#777","strokeWidth":0.8},"encoding":{"fill":{"field":"f","type":"nominal","scale":{"domain":["w","b"],"range":["#ffffff","#aebcf2"]},"legend":null}}},
{"data":{"name":"pb"},"mark":{"type":"text","fontSize":7.5,"baseline":"middle","align":"center","color":"#222"},"encoding":{"text":{"field":"t"}}},
{"data":{"values":[{"t":"GBP/USD - 4 hour","i":2,"p":1.5638}]},"mark":{"type":"text","fontSize":11,"fontWeight":"bold","align":"left","baseline":"middle","color":"#111"},"encoding":{"text":{"field":"t"}}},
{"data":{"values":[{"t":"Wave Analysis","i":2.3,"p":1.5547}]},"mark":{"type":"text","fontSize":8,"align":"left","baseline":"middle","color":"#444"},"encoding":{"text":{"field":"t"}}},
{"data":{"values":[{"t":"⇦ ⇨⇨ MotiveWave","i":0.8,"p":1.2125}]},"mark":{"type":"text","font":"DejaVu Sans","fontSize":7,"align":"left","baseline":"middle","color":"#444"},"encoding":{"text":{"field":"t"}}}
]
}
]
},
{
"width":997,"height":46,
"layer":[
{"data":{"name":"months"},"mark":{"type":"rule","color":"#8a8a8a","strokeDash":[4,3],"strokeWidth":1},"encoding":{"x":{"field":"i","type":"quantitative","scale":{"domain":[0,330],"nice":false,"zero":false},"axis":null}}},
{"data":{"values":[{}]},"mark":{"type":"rule","color":"#999","strokeDash":[3,3],"strokeWidth":1},"encoding":{"y":{"datum":0,"type":"quantitative","scale":{"domain":[-0.1,0.0437],"nice":false,"zero":false},"axis":{"orient":"right","values":[-0.05],"format":".4f","title":null,"grid":false,"tickSize":3,"labelPadding":1,"labelFontSize":7.5,"domain":false}}}},
{"data":{"name":"bars"},"transform":[{"window":[{"op":"lag","field":"a","as":"pa"}],"sort":[{"field":"i"}]}],"mark":{"type":"bar","size":2,"orient":"vertical"},"encoding":{"x":{"field":"i","type":"quantitative","axis":null},"y":{"field":"a","type":"quantitative"},"color":{"condition":{"test":"datum.pa == null || datum.a >= datum.pa","value":"#3cb043"},"value":"#c62828"}}},
{"data":{"values":[{}]},"mark":{"type":"text","text":"Awesome Osc(34,5)","fontSize":9,"fontWeight":"bold","align":"left","baseline":"middle","color":"#111"},"encoding":{"x":{"datum":1.3,"type":"quantitative","axis":null},"y":{"datum":0.026,"type":"quantitative"}}},
{"data":{"values":[{}]},"mark":{"type":"point","shape":"M-1,-0.33H1V0.33H-1Z","size":900,"filled":true,"fill":"white","opacity":1,"stroke":"#777","strokeWidth":0.8},"encoding":{"x":{"datum":335.3,"type":"quantitative","axis":null},"y":{"datum":-0.0073,"type":"quantitative"}}},
{"data":{"values":[{}]},"mark":{"type":"text","text":"-0.0073","fontSize":7.5,"align":"center","baseline":"middle","color":"#222"},"encoding":{"x":{"datum":335.3,"type":"quantitative","axis":null},"y":{"datum":-0.0073,"type":"quantitative"}}}
]
}
]
}
